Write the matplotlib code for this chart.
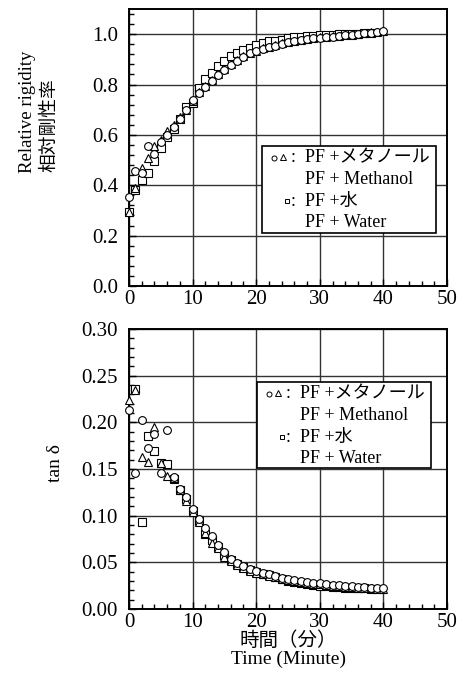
import matplotlib
matplotlib.use("Agg")
import matplotlib.pyplot as plt
from matplotlib.ticker import MultipleLocator, FormatStrFormatter
from matplotlib.patches import Rectangle
from matplotlib.transforms import offset_copy

plt.rcParams['font.family'] = ['Liberation Serif', 'Noto Sans CJK JP']

# time (minutes)
t_meoh = list(range(0, 41))
t_water_rig = list(range(0, 39))
t_water_tan = list(range(1, 39))

# relative rigidity
rig_meoh_circle = [0.355, 0.455, 0.45, 0.555, 0.525, 0.57, 0.60, 0.63, 0.665, 0.70,
                   0.74, 0.765, 0.79, 0.815, 0.838, 0.858, 0.877, 0.895, 0.91, 0.925,
                   0.932, 0.942, 0.95, 0.955, 0.962, 0.967, 0.972, 0.976, 0.98, 0.983,
                   0.986, 0.988, 0.99, 0.993, 0.995, 0.997, 1.0, 1.003, 1.006, 1.01, 1.013]
rig_meoh_triangle = [0.295, 0.39, 0.47, 0.51, 0.555, 0.58, 0.615, 0.64, 0.67, 0.70,
                     0.735, 0.77, 0.795, 0.82, 0.842, 0.862, 0.88, 0.898, 0.913, 0.927,
                     0.935, 0.944, 0.951, 0.957, 0.964, 0.969, 0.973, 0.977, 0.981, 0.984,
                     0.987, 0.989, 0.991, 0.994, 0.996, 0.998, 1.0, 1.004, 1.007, 1.01, 1.012]
rig_water_square = [0.295, 0.38, 0.42, 0.45, 0.495, 0.55, 0.59, 0.625, 0.665, 0.71,
                    0.728, 0.788, 0.822, 0.847, 0.872, 0.893, 0.912, 0.926, 0.939, 0.947,
                    0.956, 0.965, 0.971, 0.974, 0.978, 0.983, 0.987, 0.99, 0.992, 0.994,
                    0.996, 0.997, 0.998, 0.999, 1.0, 1.001, 1.002, 1.003, 1.004]

# tan delta
tan_meoh_circle = [0.2135, 0.146, 0.202, 0.172, 0.187, 0.146, 0.192, 0.141, 0.129, 0.12,
                   0.107, 0.096, 0.087, 0.078, 0.069, 0.061, 0.054, 0.049, 0.046, 0.043,
                   0.041, 0.039, 0.037, 0.035, 0.033, 0.032, 0.031, 0.030, 0.029, 0.028,
                   0.0275, 0.027, 0.026, 0.0255, 0.025, 0.0245, 0.024, 0.0235, 0.023, 0.0225, 0.022]
tan_meoh_triangle = [0.224, 0.235, 0.163, 0.157, 0.195, 0.156, 0.143, 0.140, 0.127, 0.116,
                     0.104, 0.093, 0.081, 0.071, 0.065, 0.056, 0.051, 0.047, 0.044, 0.041,
                     0.039, 0.037, 0.0355, 0.034, 0.032, 0.031, 0.030, 0.029, 0.028, 0.027,
                     0.0265, 0.026, 0.025, 0.0245, 0.024, 0.0235, 0.023, 0.0225, 0.022, 0.0215, 0.021]
tan_water_square = [0.236, 0.093, 0.185, 0.169, 0.156, 0.155, 0.139, 0.128, 0.118,
                    0.105, 0.094, 0.080, 0.074, 0.066, 0.058, 0.052, 0.048, 0.045, 0.042,
                    0.040, 0.038, 0.036, 0.034, 0.032, 0.030, 0.029, 0.028, 0.027, 0.026,
                    0.025, 0.025, 0.024, 0.024, 0.023, 0.023, 0.022, 0.022, 0.021]

legend_lines = ["PF +メタノール", "PF + Methanol", "PF +水", "PF + Water"]

W, H, DPI = 465, 690, 100
fig = plt.figure(figsize=(W / DPI, H / DPI), dpi=DPI)
fig.patch.set_facecolor('white')

ax_top = fig.add_axes([129 / W, 1 - 286 / H, 318 / W, 277 / H])
ax_bot = fig.add_axes([129 / W, 1 - 609 / H, 318 / W, 280 / H])

TICK_FS = 15
mk = dict(linestyle='none', markerfacecolor='white', markeredgecolor='black',
          markeredgewidth=0.8, clip_on=False, zorder=3)


def style_axes(ax, ymax, ymajor, yminor, yfmt):
    ax.set_xlim(0, 50)
    ax.set_ylim(0, ymax)
    ax.xaxis.set_major_locator(MultipleLocator(10))
    ax.xaxis.set_minor_locator(MultipleLocator(2))
    ax.yaxis.set_major_locator(MultipleLocator(ymajor))
    ax.yaxis.set_minor_locator(MultipleLocator(yminor))
    ax.yaxis.set_major_formatter(FormatStrFormatter(yfmt))
    ax.grid(True, which='major', color='#333333', linewidth=1.0)
    ax.set_axisbelow(True)
    for s in ax.spines.values():
        s.set_linewidth(1.4)
        s.set_color('black')
    ax.tick_params(which='both', direction='in', top=False, right=False,
                   width=1.0, colors='black')
    ax.tick_params(which='major', length=5)
    ax.tick_params(which='minor', length=3.5)
    ax.tick_params(axis='y', which='major', pad=8, labelsize=TICK_FS)
    ax.tick_params(axis='x', which='major', pad=3, labelsize=TICK_FS)


def legend_box(ax, x0, y1, h_frac):
    """Boxed key; (x0, y1) is the top-left corner in axes fraction."""
    w_frac = 174 / 318
    ax.add_patch(Rectangle((x0, y1 - h_frac), w_frac, h_frac, transform=ax.transAxes,
                           facecolor='white', edgecolor='black', linewidth=1.2,
                           zorder=5, clip_on=False))

    def tr(dx, dy):
        return offset_copy(ax.transAxes, fig=fig, x=dx, y=dy, units='dots')

    # row centres, measured downward from the box top (pixels)
    rows = [11.5, 33, 55, 76.5]
    for i, line in enumerate(legend_lines):
        ax.text(x0, y1, line, transform=tr(43, -rows[i]), fontsize=13,
                ha='left', va='center', zorder=6)
    sm = dict(markerfacecolor='white', markeredgecolor='black', markeredgewidth=0.7,
              linestyle='none', zorder=6, clip_on=False)
    ax.plot([x0], [y1], marker='o', markersize=3.6, transform=tr(12, -rows[0]), **sm)
    ax.plot([x0], [y1], marker='^', markersize=4.2, transform=tr(21, -rows[0] + 0.5), **sm)
    ax.text(x0, y1, ":", transform=tr(31, -rows[0]), fontsize=13, ha='center',
            va='center', zorder=6)
    ax.plot([x0], [y1], marker='s', markersize=3.2, transform=tr(25, -rows[2]), **sm)
    ax.text(x0, y1, ":", transform=tr(31, -rows[2]), fontsize=13, ha='center',
            va='center', zorder=6)


# --- relative rigidity ---
style_axes(ax_top, 1.1, 0.2, 0.04, '%.1f')
ax_top.plot(t_water_rig, rig_water_square, marker='s', markersize=5.2, **mk)
ax_top.plot(t_meoh, rig_meoh_triangle, marker='^', markersize=5.8, **mk)
ax_top.plot(t_meoh, rig_meoh_circle, marker='o', markersize=5.6, **mk)
legend_box(ax_top, 133 / 318, 140 / 277, 87 / 277)

# --- tan delta ---
style_axes(ax_bot, 0.30, 0.05, 0.01, '%.2f')
ax_bot.plot(t_water_tan, tan_water_square, marker='s', markersize=5.2, **mk)
ax_bot.plot(t_meoh, tan_meoh_triangle, marker='^', markersize=5.8, **mk)
ax_bot.plot(t_meoh, tan_meoh_circle, marker='o', markersize=5.6, **mk)
legend_box(ax_bot, 128 / 318, 227 / 280, 86 / 280)

# axis titles
fig.text(27 / W, 1 - 112 / H, "Relative rigidity", rotation=90, fontsize=13.5,
         ha='center', va='center')
fig.text(50 / W, 1 - 125 / H, "相対剛性率", rotation=90, fontsize=13.5,
         ha='center', va='center')
fig.text(55 / W, 1 - 463 / H, "tan δ", rotation=90, fontsize=14,
         ha='center', va='center')
fig.text(288 / W, 1 - 641 / H, "時間（分）", fontsize=14, ha='center', va='center')
fig.text(288 / W, 1 - 659 / H, "Time (Minute)", fontsize=14, ha='center', va='center')

fig.savefig("out.png", dpi=DPI, facecolor='white')
